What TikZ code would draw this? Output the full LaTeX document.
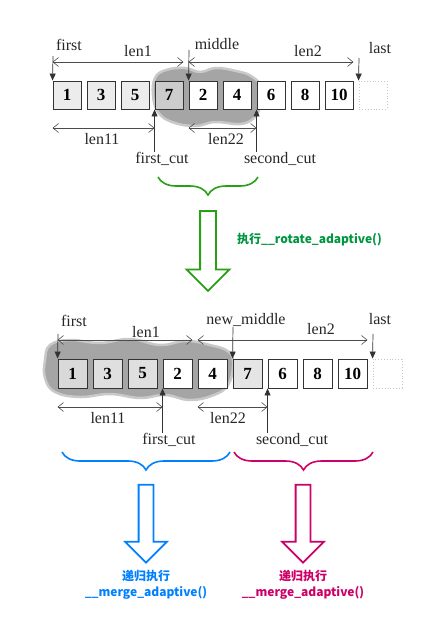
\documentclass[tikz,border=0pt]{standalone}
\usepackage{fontspec}
\setmainfont{Liberation Serif}
\newfontfamily\cjk{Noto Sans CJK SC}
\usetikzlibrary{arrows.meta, positioning, shapes.arrows, decorations.pathreplacing}

\definecolor{runGreen}{RGB}{0,150,64}
\definecolor{arrGreen}{RGB}{40,160,20}
\definecolor{recBlue}{RGB}{0,128,255}
\definecolor{recRed}{RGB}{204,0,102}
\definecolor{blobGray}{RGB}{165,165,165}

\begin{document}
\begin{tikzpicture}[x=1pt, y=-1pt,
        cell/.style={rectangle, draw=black!80, line width=0.9pt, minimum size=28pt,
                     inner sep=0pt, font=\fontsize{17}{17}\selectfont\bfseries},
        tag/.style={inner sep=0pt, text=black!85, font=\fontsize{16}{16}\selectfont},
        span/.style={{Straight Barb[length=5.5pt,width=9pt]}-{Straight Barb[length=5.5pt,width=9pt]},
                     line width=0.6pt, draw=black!70},
        pin/.style={-{Triangle[length=7pt,width=6pt]}, line width=0.7pt, draw=black!80},
        blob/.style={fill=blobGray, draw=blobGray!60, line width=2.5pt},
        bigarrow/.style={single arrow, rotate=-90, line width=1.8pt, inner xsep=0pt,
                         inner ysep=7pt, single arrow head extend=13.5pt,
                         single arrow head indent=0pt, minimum height=80pt},
        curly/.style={decorate, decoration={brace, mirror, amplitude=18pt}, line width=1.6pt},
        cn/.style={font=\cjk\bfseries\fontsize{12}{16}\selectfont, align=center, inner sep=0pt},
    ]
    \useasboundingbox (0,0) rectangle (444,637);

    % before the rotation
    \fill[blob] plot[smooth cycle, tension=0.7] coordinates {
        (155,78) (166,70) (185,68) (200,72) (216,68) (236,71) (251,76) (262,88)
        (260,106) (254,118) (240,124) (215,122) (195,126) (172,122) (158,112) (153,95)};
    \foreach \v/\f [count=\i from 0] in {1/gray!15, 3/gray!15, 5/gray!15, 7/gray!40,
        2/white, 4/white, 6/white, 8/white, 10/white}
        \node[cell, fill=\f] (t\i) at ({67+34*\i},95) {\v};
    \node[cell, draw=gray!45, dotted] (t9) at (373,95) {};

    \node[tag] (tfirst) at (69,45) {first};
    \node[tag] (tlen1) at (138,51) {len1};
    \node[tag] (tmid) at (217,44) {middle};
    \node[tag] (tlen2) at (308,51) {len2};
    \node[tag] (tlast) at (380,48) {last};
    \node[tag] (tlen11) at (102,139) {len11};
    \node[tag] (tlen22) at (226,139) {len22};
    \node[tag] (tfcut) at (162,159) {first\_cut};
    \node[tag] (tscut) at (280,159) {second\_cut};

    \coordinate (tup) at (0,62);
    \coordinate (tlow) at (0,128);
    \coordinate (tfirstpt) at (53,56);
    \coordinate (tmidpt) at (189,50);
    \coordinate (tlastpt) at (359,58);
    \draw[pin] (tfirstpt) -- (t0.north west);
    \draw[pin] (tmidpt) -- (t4.north west);
    \draw[pin] (tlastpt) -- (t9.north west);
    \draw[pin] (tfcut.north -| t3.south west) -- (t3.south west);
    \draw[pin] (tscut.north -| t6.south west) -- (t6.south west);
    \draw[span] (t0.west |- tup) -- (t3.east |- tup);
    \draw[span] (t4.west |- tup) -- (t8.east |- tup);
    \draw[span] (t0.west |- tlow) -- (t3.west |- tlow);
    \draw[span] (t4.west |- tlow) -- (t6.west |- tlow);

    \coordinate (gL) at (158,177);
    \coordinate (gR) at (258,177);
    \draw[curly, arrGreen] (gL) -- (gR);
    \node[bigarrow, draw=arrGreen] (rot) at (208,247) {};
    \node[cn, text=runGreen, anchor=west] (rotlbl) at (237,240) {执行\_\_rotate\_adaptive()};

    % after the rotation
    \fill[blob] plot[smooth cycle, tension=0.7] coordinates {
        (50,345) (70,340) (100,343) (130,339) (160,345) (186,341) (210,345) (229,352)
        (233,366) (228,385) (214,395) (190,400) (165,395) (140,398) (110,394) (80,397)
        (55,392) (45,378) (45,360)};
    \foreach \v/\f [count=\i from 0] in {1/gray!30, 3/gray!25, 5/gray!25, 2/white,
        4/white, 7/gray!20, 6/white, 8/white, 10/white}
        \node[cell, fill=\f, minimum size=29pt] (b\i) at ({72.5+35*\i},373.5) {\v};
    \node[cell, draw=gray!45, dotted, minimum size=29pt] (b9) at (387.5,373.5) {};

    \node[tag] (bfirst) at (74,321) {first};
    \node[tag] (blen1) at (146,332) {len1};
    \node[tag] (bmid) at (246,320) {new\_middle};
    \node[tag] (blen2) at (321,329) {len2};
    \node[tag] (blast) at (380,319) {last};
    \node[tag] (blen11) at (108,418) {len11};
    \node[tag] (blen22) at (228,418) {len22};
    \node[tag] (bfcut) at (169,440) {first\_cut};
    \node[tag] (bscut) at (292,440) {second\_cut};

    \coordinate (bup) at (0,340);
    \coordinate (blow) at (0,407);
    \coordinate (bfirstpt) at (58,334);
    \coordinate (bmidpt) at (233,327);
    \coordinate (blastpt) at (373,334);
    \draw[pin] (bfirstpt) -- (b0.north west);
    \draw[pin] (bmidpt) -- (b5.north west);
    \draw[pin] (blastpt) -- (b9.north west);
    \draw[pin] (bfcut.north -| b3.south west) -- (b3.south west);
    \draw[pin] (bscut.north -| b6.south west) -- (b6.south west);
    \draw[span] (b0.west |- bup) -- (b3.east |- bup);
    \draw[span] (b4.west |- bup) -- (b8.east |- bup);
    \draw[span] (b0.west |- blow) -- (b3.west |- blow);
    \draw[span] (b4.west |- blow) -- (b6.west |- blow);

    \coordinate (lL) at (62,452);
    \coordinate (lR) at (230,452);
    \coordinate (rL) at (234,452);
    \coordinate (rR) at (373,452);
    \draw[curly, recBlue] (lL) -- (lR);
    \draw[curly, recRed] (rL) -- (rR);
    \node[bigarrow, draw=recBlue, minimum height=78pt, inner ysep=6.5pt] (lrec) at (146,520) {};
    \node[bigarrow, draw=recRed, minimum height=78pt, inner ysep=6.5pt] (rrec) at (303,520) {};
    \node[cn, text=recBlue] (lreclbl) at (146,585) {递归执行\\\_\_merge\_adaptive()};
    \node[cn, text=recRed] (rreclbl) at (303,585) {递归执行\\\_\_merge\_adaptive()};
\end{tikzpicture}
\end{document}
